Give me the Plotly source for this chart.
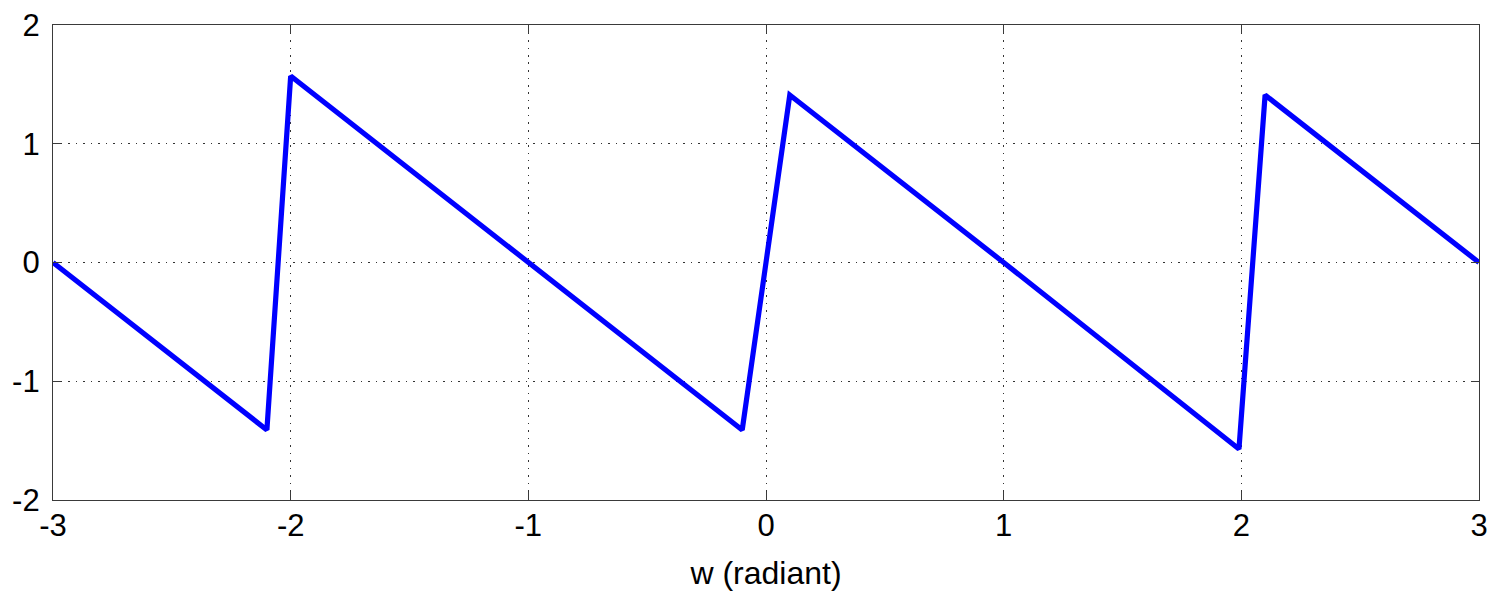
import plotly.graph_objects as go

# vertices
w_vals = [-3.0, -2.1, -2.0, -1.0, -0.1, 0.0, 0.1, 1.0, 1.99, 2.1, 3.0]
phase_vals = [0.0, -1.41, 1.57, 0.0, -1.41, 0.0, 1.41, 0.0, -1.57, 1.41, 0.0]

x_ticks = [-3, -2, -1, 0, 1, 2, 3]
y_ticks = [-2, -1, 0, 1, 2]

FONT = "Liberation Sans, Arial, sans-serif"

fig = go.Figure()
fig.add_trace(go.Scatter(x=w_vals, y=phase_vals, mode="lines",
                         line=dict(color="#0000FF", width=5.2), showlegend=False))

axis_common = dict(
    showline=True, linecolor="#3a3a3a", linewidth=1.3, mirror="ticks",
    ticks="inside", ticklen=8, tickcolor="#3a3a3a", tickwidth=1.3,
    showgrid=True, gridcolor="#333333", gridwidth=1.2, griddash="1.5px,6px",
    zeroline=False, ticklabeloverflow="allow",
    tickfont=dict(family=FONT, size=31, color="#000000"),
)

fig.update_xaxes(range=[-3, 3], tickvals=x_ticks, ticktext=[str(v) for v in x_ticks],
                 ticklabelstandoff=-2,
                 title=dict(text="w (radiant)", standoff=19,
                            font=dict(family=FONT, size=32, color="#000000")),
                 **axis_common)
fig.update_yaxes(range=[-2, 2], tickvals=y_ticks, ticktext=[str(v) for v in y_ticks],
                 ticklabelstandoff=6,
                 **axis_common)

# page body adds an 8px offset, so the figure is sized/placed to compensate
fig.update_layout(
    width=1487, height=584,
    margin=dict(l=45, r=16, t=17, b=92, autoexpand=False),
    paper_bgcolor="white", plot_bgcolor="white",
)

fig.write_html("out.html")
